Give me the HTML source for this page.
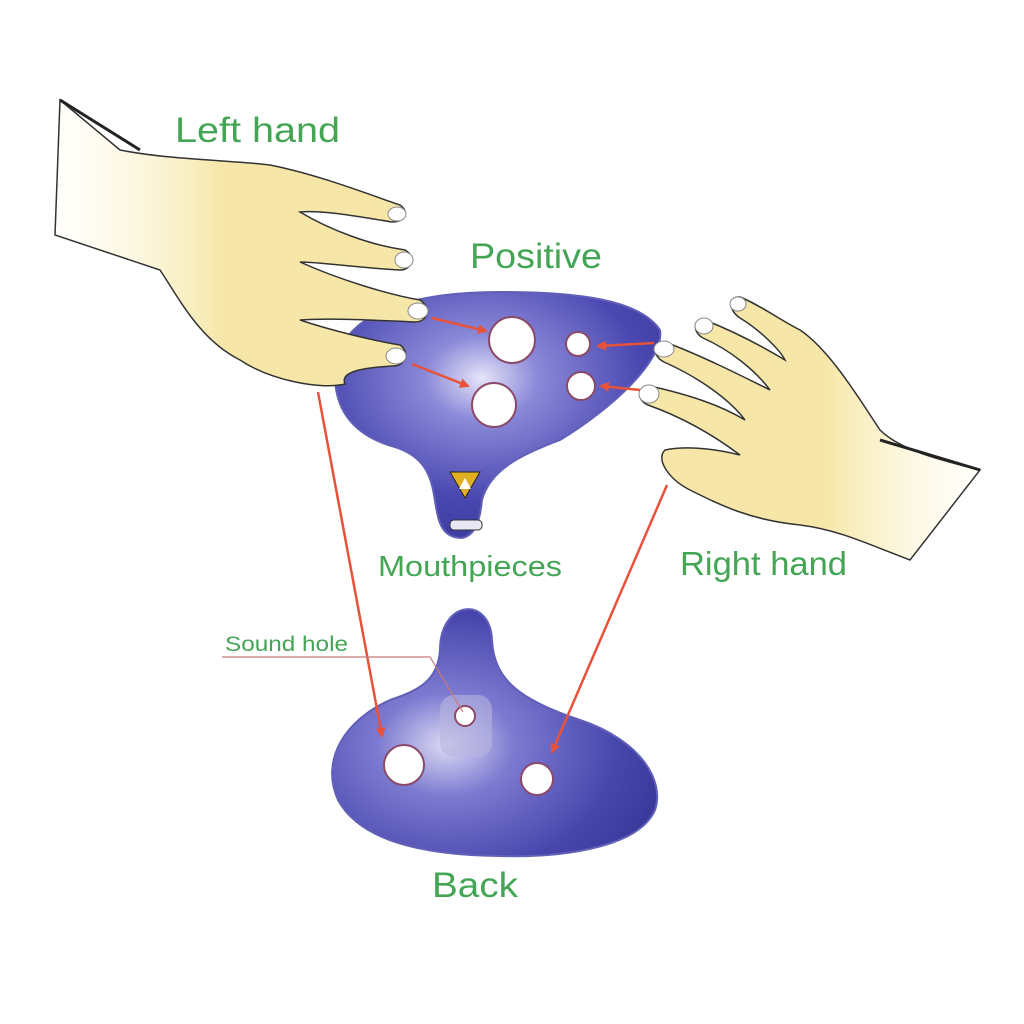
<!DOCTYPE html>
<html><head><meta charset="utf-8"><style>
html,body{margin:0;padding:0;background:#fff;}
svg{display:block}
text{font-family:"Liberation Sans",sans-serif;fill:#44a555}
</style></head><body>
<svg width="1024" height="1024" viewBox="0 0 1024 1024" xmlns="http://www.w3.org/2000/svg">
<defs>
<radialGradient id="bl" cx="0.45" cy="0.35" r="0.7">
<stop offset="0" stop-color="#e6e4f8"/><stop offset="0.25" stop-color="#8a88d8"/><stop offset="0.7" stop-color="#4a48b0"/><stop offset="1" stop-color="#3a3a9c"/></radialGradient>
<radialGradient id="bl2" cx="0.35" cy="0.55" r="0.7">
<stop offset="0" stop-color="#dcdaf4"/><stop offset="0.3" stop-color="#7c7ad0"/><stop offset="0.75" stop-color="#4846ac"/><stop offset="1" stop-color="#38389a"/></radialGradient>
<linearGradient id="armL" x1="0" y1="0" x2="1" y2="0"><stop offset="0" stop-color="#fffbea" stop-opacity="0.2"/><stop offset="0.45" stop-color="#f6e7a8"/></linearGradient>
<linearGradient id="armR" x1="1" y1="0" x2="0" y2="0"><stop offset="0" stop-color="#fffbea" stop-opacity="0.2"/><stop offset="0.45" stop-color="#f6e7a8"/></linearGradient>
<marker id="ar" markerWidth="10" markerHeight="10" refX="8" refY="5" orient="auto" markerUnits="userSpaceOnUse"><path d="M0,0 L10,5 L0,10 z" fill="#e8523a"/></marker>
</defs>
<rect width="1024" height="1024" fill="#fff"/>

<path d="M336,360 C350,305 430,292 500,292 C580,292 640,300 660,330 C665,360 610,410 560,440 C520,455 490,470 482,500 C480,520 476,535 462,538 C440,538 438,520 434,495 C430,470 420,455 395,447 C350,435 330,405 336,360 Z" fill="url(#bl)" stroke="#6060b8" stroke-width="2"/>
<circle cx="512" cy="340" r="23" fill="#fff" stroke="#8a4a6a" stroke-width="2"/>
<circle cx="494" cy="405" r="22" fill="#fff" stroke="#8a4a6a" stroke-width="2"/>
<circle cx="578" cy="344" r="12" fill="#fff" stroke="#8a4a6a" stroke-width="2"/>
<circle cx="581" cy="386" r="14" fill="#fff" stroke="#8a4a6a" stroke-width="2"/>
<path d="M450,472 L480,472 L465,498 Z" fill="#e0b020" stroke="#222" stroke-width="1"/>
<path d="M465,478 L471,489 L459,489 Z" fill="#fff"/>
<rect x="450" y="520" width="32" height="10" rx="4" fill="#e8e8f4" stroke="#333" stroke-width="1"/>

<path d="M60,100 L120,150 C170,160 230,160 270,165 C320,175 370,195 400,205 C410,212 405,222 392,222 C350,215 320,210 300,212 C330,230 370,245 405,250 C416,256 412,270 400,270 C360,268 320,262 300,262 C340,280 390,295 420,300 C432,308 428,322 415,322 C370,320 330,318 300,320 C330,330 370,340 400,345 C410,352 406,366 393,366 C360,368 340,372 345,384 C320,390 270,380 240,360 C200,340 180,300 160,270 L55,235 Z" fill="url(#armL)" stroke="#333" stroke-width="1.5"/>
<path d="M60,100 L140,150" stroke="#222" stroke-width="3" fill="none"/>
<ellipse cx="397" cy="214" rx="9" ry="7" fill="#fff" stroke="#888"/>
<ellipse cx="404" cy="260" rx="9" ry="8" fill="#fff" stroke="#888"/>
<ellipse cx="418" cy="311" rx="10" ry="8" fill="#fff" stroke="#888"/>
<ellipse cx="396" cy="356" rx="10" ry="8" fill="#fff" stroke="#888"/>

<path d="M980,470 C940,460 900,450 880,430 C860,400 830,350 800,330 C780,320 760,305 740,297 C728,296 728,310 740,318 C760,330 780,350 785,360 C760,345 730,330 705,320 C693,318 692,332 703,338 C730,350 755,370 770,390 C740,375 700,355 665,342 C652,342 652,356 664,362 C700,378 730,400 745,420 C720,405 690,395 650,386 C637,386 636,400 648,405 C690,420 720,440 740,455 C720,450 690,445 665,450 C655,460 670,480 690,490 C720,505 750,520 800,525 C840,530 870,545 910,560 Z" fill="url(#armR)" stroke="#333" stroke-width="1.5"/>
<path d="M880,440 L980,470" stroke="#222" stroke-width="3" fill="none"/>
<ellipse cx="738" cy="304" rx="8" ry="7" fill="#fff" stroke="#888"/>
<ellipse cx="704" cy="326" rx="9" ry="8" fill="#fff" stroke="#888"/>
<ellipse cx="664" cy="349" rx="10" ry="8" fill="#fff" stroke="#888"/>
<ellipse cx="649" cy="394" rx="10" ry="9" fill="#fff" stroke="#888"/>

<path d="M440,650 C440,600 490,595 492,640 C494,680 520,700 580,720 C640,740 665,780 655,810 C640,845 570,858 500,856 C420,855 360,840 338,800 C320,760 345,720 390,700 C420,690 438,680 440,650 Z" fill="url(#bl2)" stroke="#6060b8" stroke-width="2"/>
<rect x="440" y="695" width="52" height="62" rx="14" fill="#b8b4e0" opacity="0.6"/>
<circle cx="404" cy="765" r="20" fill="#fff" stroke="#8a4a6a" stroke-width="2"/>
<circle cx="537" cy="779" r="16" fill="#fff" stroke="#8a4a6a" stroke-width="2"/>
<circle cx="465" cy="716" r="10" fill="#fff" stroke="#8a4a6a" stroke-width="2"/>

<g stroke="#e8523a" stroke-width="2.5" fill="none" marker-end="url(#ar)">
<line x1="432" y1="318" x2="486" y2="331"/>
<line x1="412" y1="364" x2="468" y2="386"/>
<line x1="654" y1="343" x2="598" y2="346"/>
<line x1="640" y1="390" x2="601" y2="386"/>
<line x1="318" y1="392" x2="382" y2="736"/>
<line x1="667" y1="485" x2="552" y2="752"/>
</g>
<polyline points="222,657 430,657 463,712" fill="none" stroke="#c87a7a" stroke-width="1.2"/>

<text x="175" y="142" font-size="35" textLength="165" lengthAdjust="spacingAndGlyphs">Left hand</text>
<text x="470" y="268" font-size="35" textLength="132" lengthAdjust="spacingAndGlyphs">Positive</text>
<text x="378" y="576" font-size="29" textLength="184" lengthAdjust="spacingAndGlyphs">Mouthpieces</text>
<text x="680" y="575" font-size="33" textLength="167" lengthAdjust="spacingAndGlyphs">Right hand</text>
<text x="225" y="651" font-size="21" textLength="123" lengthAdjust="spacingAndGlyphs">Sound hole</text>
<text x="432" y="897" font-size="35" textLength="86" lengthAdjust="spacingAndGlyphs">Back</text>
</svg>
</body></html>
